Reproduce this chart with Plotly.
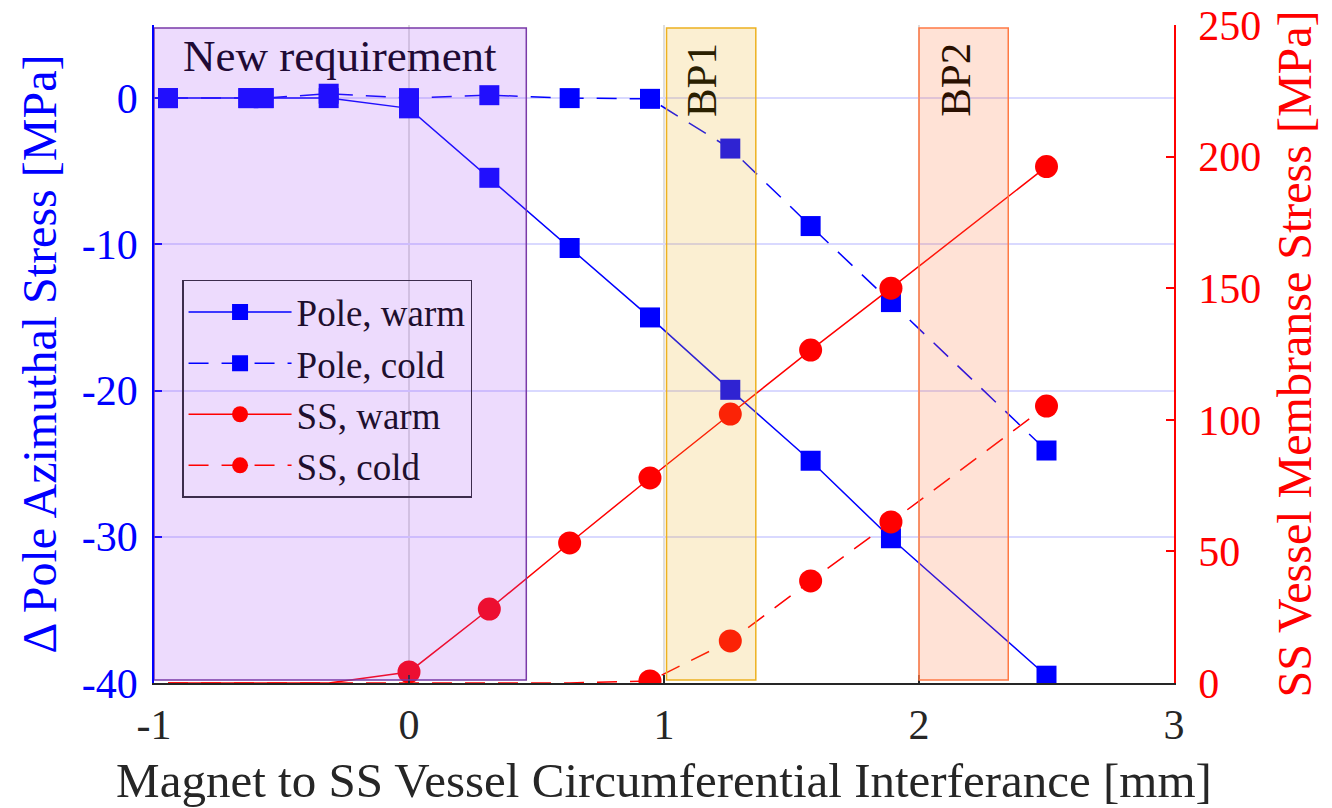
import plotly.graph_objects as go

# ---------------- data ----------------
interference = [-0.945, -0.63, -0.57, -0.315, 0.0, 0.315, 0.63, 0.945, 1.26, 1.575, 1.89, 2.5]
pole_warm = [0.0, 0.0, 0.0, 0.0, -0.7, -5.45, -10.25, -15.0, -19.95, -24.8, -30.1, -39.5]
pole_cold = [0.0, 0.0, 0.0, 0.3, 0.0, 0.2, 0.0, -0.05, -3.45, -8.75, -13.95, -24.1]
ss_warm = [0.0, 0.0, 0.0, 0.0, 4.2, 28.1, 53.2, 77.9, 102.2, 126.5, 150.0, 196.2]
ss_cold = [0.0, 0.0, 0.0, 0.0, 0.0, 0.0, 0.0, 0.8, 16.0, 38.8, 61.2, 105.2]

x_ticks = [-1, 0, 1, 2, 3]
x_ticktext = ["-1", "0", "1", "2", "3"]
y_left_ticks = [-40, -30, -20, -10, 0]
y_left_ticktext = ["-40", "-30", "-20", "-10", "0"]
y_right_ticks = [0, 50, 100, 150, 200, 250]
y_right_ticktext = ["0", "50", "100", "150", "200", "250"]

region_labels = ["New requirement", "BP1", "BP2"]
region_x0 = [-1.0, 1.01, 2.0]
region_x1 = [0.46, 1.36, 2.35]
region_y0 = -39.8
region_y1 = 4.8

FONT = "Liberation Serif"
BLUE = "#0000ff"
RED = "#ff0000"
DASH = "20px,13px"

fig = go.Figure()

fig.add_trace(go.Scatter(
    x=interference, y=pole_warm, name="Pole, warm", mode="lines+markers",
    line=dict(color=BLUE, width=1.5),
    marker=dict(symbol="square", size=20, color=BLUE, line=dict(width=0)),
))
fig.add_trace(go.Scatter(
    x=interference, y=pole_cold, name="Pole, cold", mode="lines+markers",
    line=dict(color=BLUE, width=1.5, dash=DASH),
    marker=dict(symbol="square", size=20, color=BLUE, line=dict(width=0)),
))
fig.add_trace(go.Scatter(
    x=interference, y=ss_warm, name="SS, warm", mode="lines+markers", yaxis="y2",
    line=dict(color=RED, width=1.5),
    marker=dict(symbol="circle", size=23, color=RED, line=dict(width=0)),
    selectedpoints=[i for i, v in enumerate(ss_warm) if v > 0.5],
    selected=dict(marker=dict(opacity=1)),
    unselected=dict(marker=dict(opacity=0)),
))
fig.add_trace(go.Scatter(
    x=interference, y=ss_cold, name="SS, cold", mode="lines+markers", yaxis="y2",
    line=dict(color=RED, width=1.5, dash=DASH),
    marker=dict(symbol="circle", size=23, color=RED, line=dict(width=0)),
    selectedpoints=[i for i, v in enumerate(ss_cold) if v > 0.5],
    selected=dict(marker=dict(opacity=1)),
    unselected=dict(marker=dict(opacity=0)),
))

# shaded regions (drawn above the data, semi-transparent)
fills = ["rgba(165,75,245,0.2)", "rgba(237,177,32,0.2)", "rgba(255,110,50,0.2)"]
edges = ["#7a3aa8", "#edb120", "#ff7a45"]
for x0, x1, fc, ec in zip(region_x0, region_x1, fills, edges):
    fig.add_shape(type="rect", xref="x", yref="y", x0=x0, x1=x1,
                  y0=region_y0, y1=region_y1, fillcolor=fc,
                  line=dict(color=ec, width=1.5), layer="above")

fig.add_annotation(x=(region_x0[0] + region_x1[0]) / 2, y=2.85, xref="x", yref="y",
                   text=region_labels[0], showarrow=False,
                   font=dict(family=FONT, size=45, color="#200a35"))
fig.add_annotation(x=1.15, y=1.25, xref="x", yref="y", text=region_labels[1],
                   showarrow=False, textangle=-90,
                   font=dict(family=FONT, size=43, color="#2a2000"))
fig.add_annotation(x=2.145, y=1.25, xref="x", yref="y", text=region_labels[2],
                   showarrow=False, textangle=-90,
                   font=dict(family=FONT, size=43, color="#2a1000"))

fig.update_layout(
    width=1332, height=808,
    margin=dict(l=154, r=158, t=25, b=125, autoexpand=False),
    paper_bgcolor="white", plot_bgcolor="white",
    font=dict(family=FONT, size=42, color="#262626"),
    showlegend=True,
    legend=dict(
        x=0.0275, y=0.6125, xanchor="left", yanchor="top",
        bgcolor="rgba(0,0,0,0)", bordercolor="#3c2c4c", borderwidth=1.5,
        font=dict(family=FONT, size=37, color="#1e0f2e"),
        itemwidth=103, tracegroupgap=0,
    ),
    xaxis=dict(
        range=[-1, 3], tickvals=x_ticks, ticktext=x_ticktext, automargin=False,
        showline=True, linecolor="#262626", linewidth=1.5, mirror=False,
        ticks="inside", ticklen=8, tickcolor="#262626", tickwidth=1.5,
        showgrid=True, gridcolor="#dedede", gridwidth=1.5, zeroline=False,
        tickfont=dict(family=FONT, size=42, color="#262626"),
        ticklabelstandoff=4,
        title=dict(text="Magnet to SS Vessel Circumferential Interferance [mm]",
                   font=dict(family=FONT, size=49, color="#262626"), standoff=18),
    ),
    yaxis=dict(
        range=[-40, 5], tickvals=y_left_ticks, ticktext=y_left_ticktext, automargin=False,
        showline=True, linecolor=BLUE, linewidth=1.5, mirror=False,
        ticks="inside", ticklen=8, tickcolor=BLUE, tickwidth=1.5,
        showgrid=True, gridcolor="rgb(217,217,255)", gridwidth=1.5, zeroline=False,
        tickfont=dict(family=FONT, size=42, color=BLUE),
        ticklabelstandoff=6,
        title=dict(text="Δ Pole Azimuthal Stress [MPa]",
                   font=dict(family=FONT, size=48, color=BLUE), standoff=10),
    ),
    yaxis2=dict(
        range=[0, 250], tickvals=y_right_ticks, ticktext=y_right_ticktext, automargin=False,
        overlaying="y", side="right",
        showline=True, linecolor=RED, linewidth=1.5, mirror=False,
        ticks="inside", ticklen=8, tickcolor=RED, tickwidth=1.5,
        showgrid=False, zeroline=False,
        tickfont=dict(family=FONT, size=42, color=RED),
        ticklabelstandoff=14,
        title=dict(text="SS Vessel Membranse Stress [MPa]",
                   font=dict(family=FONT, size=48, color=RED), standoff=17),
    ),
)

fig.write_html("out.html")
